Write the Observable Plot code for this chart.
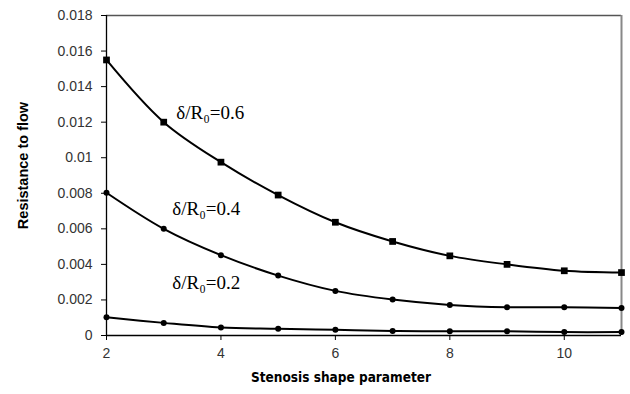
<!DOCTYPE html>
<html>
<head>
<meta charset="utf-8">
<script src="https://cdn.jsdelivr.net/npm/d3@7"></script>
<script src="https://cdn.jsdelivr.net/npm/@observablehq/plot@0.6"></script>
<style>
  html, body { margin: 0; padding: 0; background: #fff; }
  #chart svg { display: block; }
</style>
</head>
<body>
<div id="chart"></div>
<script>
// Stenosis shape parameter (x)
const shapeParam = [2, 3, 4, 5, 6, 7, 8, 9, 10, 11];
// Resistance to flow for each δ/R0
const res06 = [0.0155, 0.0120, 0.00975, 0.0079, 0.00637, 0.00529, 0.00448, 0.0040, 0.00364, 0.00354];
const res04 = [0.00803, 0.0060, 0.00452, 0.00337, 0.00251, 0.00202, 0.00172, 0.00159, 0.00159, 0.00154];
const res02 = [0.00103, 0.00071, 0.00045, 0.00038, 0.00032, 0.00026, 0.00024, 0.00024, 0.00019, 0.0002];
const seriesNames = ["0.6", "0.4", "0.2"];
// Tick labels
const yTicks = [0, 0.002, 0.004, 0.006, 0.008, 0.01, 0.012, 0.014, 0.016, 0.018];
const xTicks = [2, 4, 6, 8, 10];
// Series labels (annotation anchor in data units)
const labelText = ["δ/R₀=0.6", "δ/R₀=0.4", "δ/R₀=0.2"];
const labelX = [3.22, 3.15, 3.15];
const labelY = [0.01254, 0.00714, 0.00298];

const allSeries = [res06, res04, res02];
const rows = [];
allSeries.forEach((vals, i) => vals.forEach((v, j) => rows.push({x: shapeParam[j], y: v, s: seriesNames[i]})));
const sq = rows.filter(d => d.s === "0.6");
const dots = rows.filter(d => d.s !== "0.6");
const labels = labelText.map((t, i) => ({t, x: labelX[i], y: labelY[i]}));

const chart = Plot.plot({
  width: 630,
  height: 394,
  marginTop: 15,
  marginBottom: 59,
  marginLeft: 106,
  marginRight: 9,
  style: {fontFamily: "'Liberation Sans', Arial, sans-serif", background: "#fff"},
  x: {domain: [2, 11]},
  y: {domain: [0, 0.018]},
  marks: [
    Plot.ruleY([0.018], {stroke: "#555", strokeWidth: 1.5}),
    Plot.ruleX([11], {stroke: "#888", strokeWidth: 2}),
    Plot.ruleX([2], {stroke: "#000", strokeWidth: 1.3}),
    Plot.ruleY([0], {stroke: "#000", strokeWidth: 1.3}),
    Plot.axisY({ticks: yTicks, tickFormat: d => String(+d.toFixed(3)), tickSize: 5, tickPadding: 9,
      fontSize: 14, color: "#333", stroke: "#000", label: null}),
    Plot.axisX({ticks: xTicks, tickFormat: d => String(d), tickSize: 5, tickPadding: 8,
      fontSize: 14, color: "#333", stroke: "#000", label: null}),
    Plot.line(rows, {x: "x", y: "y", z: "s", stroke: "#000", strokeWidth: 2, curve: "catmull-rom"}),
    Plot.dot(sq, {x: "x", y: "y", symbol: "square", r: 3.8, fill: "#000", stroke: null}),
    Plot.dot(dots, {x: "x", y: "y", symbol: "circle", r: 3, fill: "#000", stroke: null}),
    Plot.text(labels, {x: "x", y: "y", text: "t", textAnchor: "start",
      fontFamily: "'Liberation Serif', 'Times New Roman', serif", fontSize: 19, fill: "#000"}),
    Plot.text(["Resistance to flow"], {frameAnchor: "left", textAnchor: "middle", dx: -83, dy: -10, rotate: -90,
      fontSize: 14.5, fontWeight: "bold", fill: "#000", style: "letter-spacing: 1.3px"}),
    Plot.text(["Stenosis shape parameter"], {frameAnchor: "bottom", dx: -23, dy: 46,
      fontFamily: "'Liberation Sans Narrow', 'DejaVu Sans Condensed', sans-serif",
      fontSize: 13.5, fontWeight: "bold", fill: "#000"})
  ]
});
document.getElementById("chart").appendChild(chart);
</script>
</body>
</html>
